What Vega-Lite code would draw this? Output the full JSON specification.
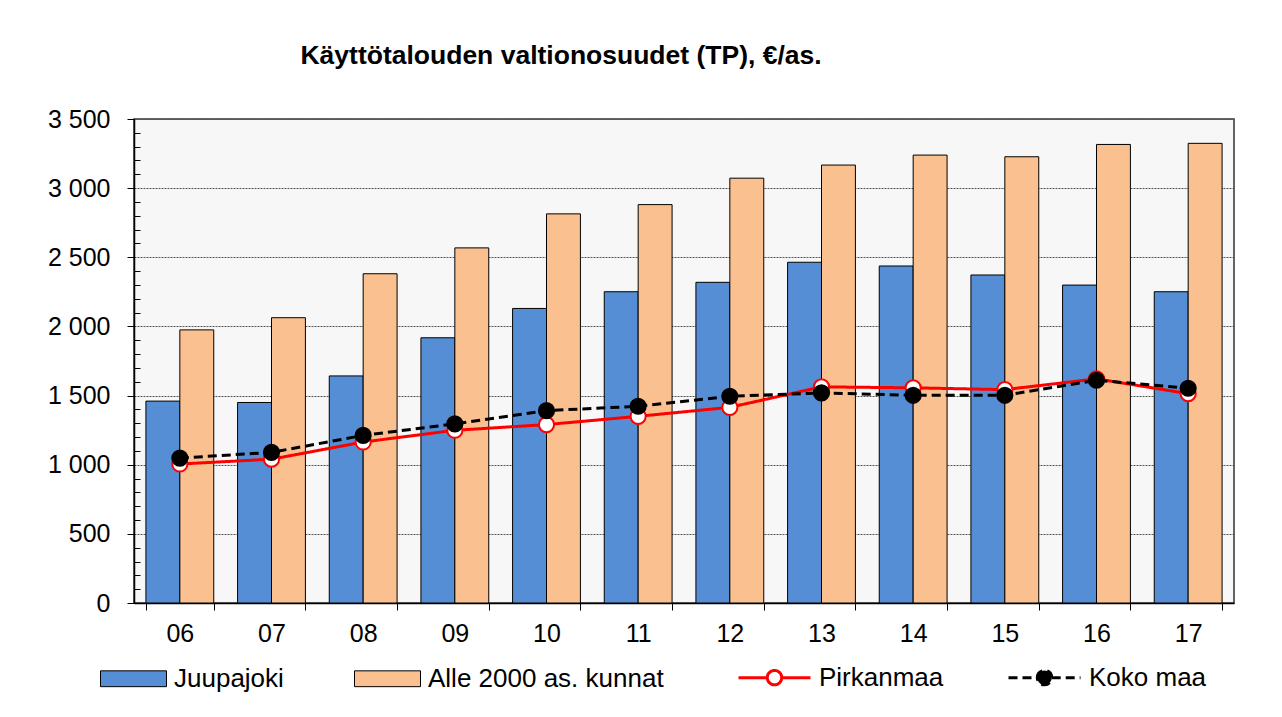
{
  "$schema": "https://vega.github.io/schema/vega-lite/v6.json",
  "width": 1100,
  "height": 484,
  "autosize": {"type": "none"},
  "padding": {"left": 134, "top": 119, "right": 48, "bottom": 114},
  "background": "white",
  "config": {
    "font": "Liberation Sans",
    "view": {"fill": "#f7f7f7", "stroke": "#333333", "strokeWidth": 1.5}
  },
  "title": {
    "text": "Käyttötalouden valtionosuudet (TP), €/as.",
    "anchor": "start",
    "dx": 253,
    "offset": 17,
    "baseline": "alphabetic",
    "font": "Liberation Sans",
    "fontSize": 26.5,
    "fontWeight": "bold",
    "color": "black"
  },
  "datasets": {
    "bars": [
      {"vuosi": "06", "sarja": "Juupajoki", "arvo": 1460},
      {"vuosi": "06", "sarja": "Alle 2000 as. kunnat", "arvo": 1975},
      {"vuosi": "07", "sarja": "Juupajoki", "arvo": 1450},
      {"vuosi": "07", "sarja": "Alle 2000 as. kunnat", "arvo": 2063},
      {"vuosi": "08", "sarja": "Juupajoki", "arvo": 1642},
      {"vuosi": "08", "sarja": "Alle 2000 as. kunnat", "arvo": 2381},
      {"vuosi": "09", "sarja": "Juupajoki", "arvo": 1918},
      {"vuosi": "09", "sarja": "Alle 2000 as. kunnat", "arvo": 2568},
      {"vuosi": "10", "sarja": "Juupajoki", "arvo": 2130},
      {"vuosi": "10", "sarja": "Alle 2000 as. kunnat", "arvo": 2814},
      {"vuosi": "11", "sarja": "Juupajoki", "arvo": 2251},
      {"vuosi": "11", "sarja": "Alle 2000 as. kunnat", "arvo": 2881},
      {"vuosi": "12", "sarja": "Juupajoki", "arvo": 2319},
      {"vuosi": "12", "sarja": "Alle 2000 as. kunnat", "arvo": 3072},
      {"vuosi": "13", "sarja": "Juupajoki", "arvo": 2464},
      {"vuosi": "13", "sarja": "Alle 2000 as. kunnat", "arvo": 3167},
      {"vuosi": "14", "sarja": "Juupajoki", "arvo": 2437},
      {"vuosi": "14", "sarja": "Alle 2000 as. kunnat", "arvo": 3239},
      {"vuosi": "15", "sarja": "Juupajoki", "arvo": 2372},
      {"vuosi": "15", "sarja": "Alle 2000 as. kunnat", "arvo": 3227},
      {"vuosi": "16", "sarja": "Juupajoki", "arvo": 2299},
      {"vuosi": "16", "sarja": "Alle 2000 as. kunnat", "arvo": 3316},
      {"vuosi": "17", "sarja": "Juupajoki", "arvo": 2251},
      {"vuosi": "17", "sarja": "Alle 2000 as. kunnat", "arvo": 3324}
    ],
    "lines": [
      {"vuosi": "06", "alue": "Pirkanmaa", "arvo": 1005},
      {"vuosi": "07", "alue": "Pirkanmaa", "arvo": 1040},
      {"vuosi": "08", "alue": "Pirkanmaa", "arvo": 1164},
      {"vuosi": "09", "alue": "Pirkanmaa", "arvo": 1249},
      {"vuosi": "10", "alue": "Pirkanmaa", "arvo": 1290},
      {"vuosi": "11", "alue": "Pirkanmaa", "arvo": 1350},
      {"vuosi": "12", "alue": "Pirkanmaa", "arvo": 1415},
      {"vuosi": "13", "alue": "Pirkanmaa", "arvo": 1563},
      {"vuosi": "14", "alue": "Pirkanmaa", "arvo": 1556},
      {"vuosi": "15", "alue": "Pirkanmaa", "arvo": 1543},
      {"vuosi": "16", "alue": "Pirkanmaa", "arvo": 1621},
      {"vuosi": "17", "alue": "Pirkanmaa", "arvo": 1514},
      {"vuosi": "06", "alue": "Koko maa", "arvo": 1048},
      {"vuosi": "07", "alue": "Koko maa", "arvo": 1089},
      {"vuosi": "08", "alue": "Koko maa", "arvo": 1212},
      {"vuosi": "09", "alue": "Koko maa", "arvo": 1295},
      {"vuosi": "10", "alue": "Koko maa", "arvo": 1391},
      {"vuosi": "11", "alue": "Koko maa", "arvo": 1423},
      {"vuosi": "12", "alue": "Koko maa", "arvo": 1495},
      {"vuosi": "13", "alue": "Koko maa", "arvo": 1519},
      {"vuosi": "14", "alue": "Koko maa", "arvo": 1502},
      {"vuosi": "15", "alue": "Koko maa", "arvo": 1502},
      {"vuosi": "16", "alue": "Koko maa", "arvo": 1611},
      {"vuosi": "17", "alue": "Koko maa", "arvo": 1553}
    ]
  },
  "resolve": {"axis": {"y": "independent"}},
  "layer": [
    {
      "data": {"name": "bars"},
      "mark": {"type": "bar", "stroke": "black", "strokeWidth": 1},
      "encoding": {
        "x": {
          "field": "vuosi", "type": "nominal",
          "scale": {"paddingInner": 0.26, "paddingOuter": 0.13},
          "axis": {
            "title": null, "labelAngle": 0, "labelFont": "Liberation Sans", "labelFontSize": 25,
            "labelColor": "black", "labelPadding": 11, "tickBand": "extent", "tickSize": 7,
            "tickColor": "black", "domainColor": "black", "domainWidth": 1.5, "grid": false
          }
        },
        "xOffset": {
          "field": "sarja", "type": "nominal",
          "scale": {"domain": ["Juupajoki", "Alle 2000 as. kunnat"], "paddingInner": 0, "paddingOuter": 0}
        },
        "y": {
          "field": "arvo", "type": "quantitative",
          "scale": {"domain": [0, 3500], "nice": false},
          "axis": {
            "orient": "left", "title": null,
            "values": [0, 500, 1000, 1500, 2000, 2500, 3000, 3500],
            "labelExpr": "replace(format(datum.value, ','), ',', ' ')",
            "labelFont": "Liberation Sans", "labelFontSize": 25, "labelColor": "black", "labelPadding": 17,
            "tickSize": 7, "tickColor": "black", "domainColor": "black", "domainWidth": 1.5,
            "grid": true, "gridColor": "#555555", "gridDash": [2, 1], "gridWidth": 1
          }
        },
        "color": {
          "field": "sarja", "type": "nominal",
          "scale": {"domain": ["Juupajoki", "Alle 2000 as. kunnat"], "range": ["#558ed5", "#fac090"]},
          "legend": {
            "title": null, "orient": "none", "legendX": -34, "legendY": 526, "direction": "horizontal",
            "symbolType": "M-1,-0.24H1V0.24H-1Z", "symbolSize": 4356, "symbolStrokeColor": "black",
            "symbolStrokeWidth": 1, "symbolOpacity": 1,
            "labelFont": "Liberation Sans", "labelFontSize": 26, "labelColor": "black",
            "labelOffset": 7, "columnPadding": 68, "labelLimit": 400
          }
        }
      }
    },
    {
      "data": {"name": "lines"},
      "mark": {"type": "line", "strokeWidth": 3},
      "encoding": {
        "x": {"field": "vuosi", "type": "nominal"},
        "y": {
          "field": "arvo", "type": "quantitative",
          "axis": {
            "orient": "right", "title": null, "offset": -1100,
            "values": [100, 200, 300, 400, 600, 700, 800, 900, 1100, 1200, 1300, 1400, 1600, 1700, 1800, 1900, 2100, 2200, 2300, 2400, 2600, 2700, 2800, 2900, 3100, 3200, 3300, 3400],
            "labels": false, "domain": false, "grid": false, "tickSize": 6, "tickColor": "black", "tickWidth": 1
          }
        },
        "stroke": {
          "field": "alue", "type": "nominal",
          "scale": {"domain": ["Pirkanmaa", "Koko maa"], "range": ["#ff0000", "#000000"]},
          "legend": {
            "title": null, "orient": "none", "legendX": 603, "legendY": 521, "direction": "horizontal",
            "symbolType": "M-1,0H-0.2M0.2,0H1M-0.2,0A0.2,0.2,0,1,1,0.2,0A0.2,0.2,0,1,1,-0.2,0Z",
            "symbolSize": 5184, "symbolStrokeWidth": 3,
            "labelFont": "Liberation Sans", "labelFontSize": 26, "labelColor": "black",
            "labelOffset": 7, "columnPadding": 58, "labelLimit": 400
          }
        },
        "strokeDash": {
          "field": "alue", "type": "nominal",
          "scale": {"domain": ["Pirkanmaa", "Koko maa"], "range": [[1, 0], [9, 5]]},
          "legend": {
            "title": null, "orient": "none", "legendX": 603, "legendY": 521, "direction": "horizontal",
            "symbolType": "M-1,0H-0.2M0.2,0H1M-0.2,0A0.2,0.2,0,1,1,0.2,0A0.2,0.2,0,1,1,-0.2,0Z",
            "symbolSize": 5184, "symbolStrokeWidth": 3,
            "labelFont": "Liberation Sans", "labelFontSize": 26, "labelColor": "black",
            "labelOffset": 7, "columnPadding": 58, "labelLimit": 400
          }
        }
      }
    },
    {
      "data": {"name": "lines"},
      "mark": {"type": "circle", "size": 230, "strokeWidth": 2, "opacity": 1},
      "encoding": {
        "x": {"field": "vuosi", "type": "nominal"},
        "y": {"field": "arvo", "type": "quantitative", "axis": null},
        "stroke": {
          "field": "alue", "type": "nominal",
          "scale": {"domain": ["Pirkanmaa", "Koko maa"], "range": ["#ff0000", "#000000"]},
          "legend": {
            "title": null, "orient": "none", "legendX": 603, "legendY": 521, "direction": "horizontal",
            "symbolType": "M-1,0H-0.2M0.2,0H1M-0.2,0A0.2,0.2,0,1,1,0.2,0A0.2,0.2,0,1,1,-0.2,0Z",
            "symbolSize": 5184, "symbolStrokeWidth": 3,
            "labelFont": "Liberation Sans", "labelFontSize": 26, "labelColor": "black",
            "labelOffset": 7, "columnPadding": 58, "labelLimit": 400
          }
        },
        "fill": {
          "field": "alue", "type": "nominal",
          "scale": {"domain": ["Pirkanmaa", "Koko maa"], "range": ["#ffffff", "#000000"]},
          "legend": {
            "title": null, "orient": "none", "legendX": 603, "legendY": 521, "direction": "horizontal",
            "symbolType": "M-1,0H-0.2M0.2,0H1M-0.2,0A0.2,0.2,0,1,1,0.2,0A0.2,0.2,0,1,1,-0.2,0Z",
            "symbolSize": 5184, "symbolStrokeWidth": 3,
            "labelFont": "Liberation Sans", "labelFontSize": 26, "labelColor": "black",
            "labelOffset": 7, "columnPadding": 58, "labelLimit": 400
          }
        }
      }
    }
  ]
}
